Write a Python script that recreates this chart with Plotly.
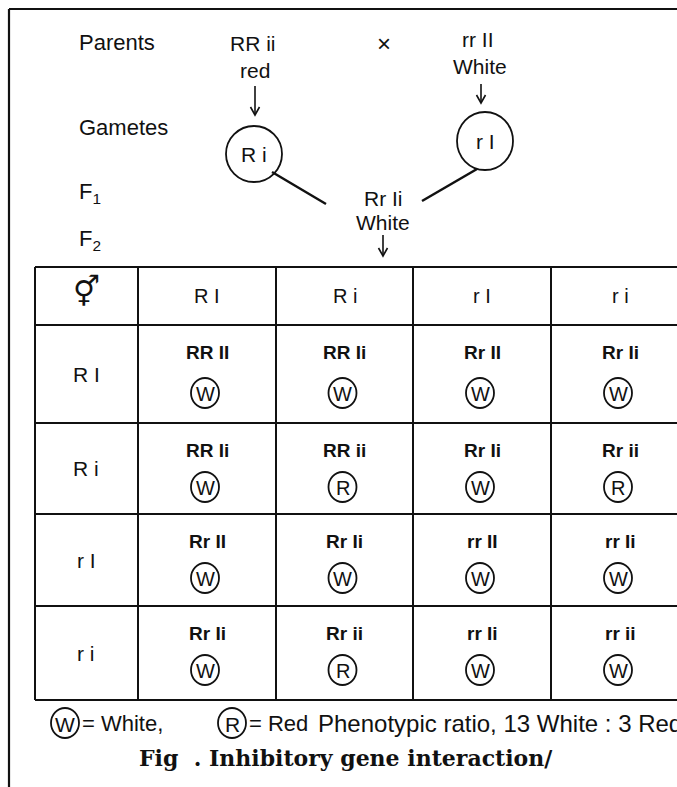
import plotly.graph_objects as go

# ---- data ----
parent_labels = ["Parents", "Gametes", "F<sub>1</sub>", "F<sub>2</sub>"]
parent1 = ["RR ii", "red"]
parent2 = ["rr II", "White"]
gamete1 = "R i"
gamete2 = "r I"
f1 = ["Rr Ii", "White"]
col_gametes = ["R I", "R i", "r I", "r i"]
row_gametes = ["R I", "R i", "r I", "r i"]
genotypes = [
    ["RR II", "RR Ii", "Rr II", "Rr Ii"],
    ["RR Ii", "RR ii", "Rr Ii", "Rr ii"],
    ["Rr II", "Rr Ii", "rr II", "rr Ii"],
    ["Rr Ii", "Rr ii", "rr Ii", "rr ii"],
]
phenotypes = [
    ["W", "W", "W", "W"],
    ["W", "R", "W", "R"],
    ["W", "W", "W", "W"],
    ["W", "R", "W", "W"],
]
legend_items = [("W", "= White,"), ("R", "= Red")]
ratio_text = "Phenotypic ratio, 13 White : 3 Red"
caption = ["Fig  . Inhibitory gene interaction/", "Dominant recessive interaction"]

# ---- layout geometry (pixels of the page) ----
W, H = 677, 787
INK = "#111111"
SANS = "Liberation Sans, Arial, Helvetica, sans-serif"
SERIF = "DejaVu Serif, serif"
col_x = [35, 138, 276, 413, 551, 689]
row_y = [267, 325, 423, 514, 606, 700]

shapes = []
ann = []

def line(x0, y0, x1, y1, w=2):
    shapes.append(dict(type="line", x0=x0, y0=y0, x1=x1, y1=y1,
                       line=dict(color=INK, width=w), layer="above"))

def circle(cx, cy, rx, ry, w=1.8):
    shapes.append(dict(type="circle", x0=cx - rx, y0=cy - ry, x1=cx + rx, y1=cy + ry,
                       line=dict(color=INK, width=w), layer="above"))

def text(x, y, s, size=16, anchor="center", family=SANS, bold=False):
    if bold:
        s = "<b>" + s + "</b>"
    ann.append(dict(x=x, y=y, xref="x", yref="y", text=s, showarrow=False,
                    xanchor=anchor, yanchor="middle",
                    font=dict(family=family, size=size, color=INK)))

def arrow(x, y0, y1):
    line(x, y0, x, y1, 1.6)
    shapes.append(dict(type="path", path=f"M {x-4.5},{y1-8} L {x},{y1} L {x+4.5},{y1-8}",
                       line=dict(color=INK, width=1.6), layer="above"))

# outer frame
line(9, 9, W + 20, 9, 2.2)
line(9, 9, 9, H + 20, 2.2)

# top cross
left_y = [42, 127, 193, 240]
for lab, y in zip(parent_labels, left_y):
    text(77, y, lab, 22, anchor="left")

text(253, 43, parent1[0], 21)
text(255, 70, parent1[1], 21)
arrow(255, 86, 115)
text(384, 43, "×", 24)
text(478, 39, parent2[0], 21)
text(480, 66, parent2[1], 21)
arrow(481, 84, 103)

circle(254, 154, 28, 28)
text(254, 154, gamete1, 21)
circle(485, 141, 28, 29)
text(485, 141, gamete2, 21)

line(272, 172, 326, 204, 2.5)
line(422, 201, 477, 169, 2.5)
text(383, 198, f1[0], 21)
text(383, 222, f1[1], 21)
arrow(383, 235, 256)

# punnett table
for x in col_x:
    line(x, row_y[0], x, row_y[-1], 2)
for y in row_y:
    line(col_x[0], y, col_x[-1], y, 2)

text(86, 291, "<b>⚥</b>", 30, family="DejaVu Sans")
for j, g in enumerate(col_gametes):
    cx = (col_x[j + 1] + col_x[j + 2]) / 2
    text(cx, 296, g, 20)

for i, g in enumerate(row_gametes):
    top, bot = row_y[i + 1], row_y[i + 2]
    text(86, (top + bot) / 2, g, 21)
    for j in range(4):
        cx = (col_x[j + 1] + col_x[j + 2]) / 2
        text(cx, top + 27, genotypes[i][j], 19, bold=True)
        cy = top + 68 if i == 0 else top + 64
        circle(cx - 2, cy, 14, 15)
        text(cx - 2, cy + 1, phenotypes[i][j], 20)

# legend
LY = 723
lx = [65, 232]
for (sym, lab), x in zip(legend_items, lx):
    circle(x, LY, 14, 15)
    text(x, LY + 1, sym, 21)
    text(x + 15, LY, lab, 22, anchor="left")
text(316, LY, ratio_text, 24, anchor="left")

# caption
text(346, 758, caption[0], 22, family=SERIF, bold=True)
text(346, 791, caption[1], 22, family=SERIF, bold=True)

fig = go.Figure()
fig.add_trace(go.Scatter(x=[0, W], y=[0, H], mode="markers",
                         marker=dict(opacity=0), hoverinfo="skip", showlegend=False))
fig.update_layout(
    width=W, height=H, margin=dict(l=0, r=0, t=0, b=0),
    paper_bgcolor="white", plot_bgcolor="white",
    xaxis=dict(range=[0, W], visible=False, fixedrange=True),
    yaxis=dict(range=[H, 0], visible=False, fixedrange=True),
    shapes=shapes, annotations=ann, showlegend=False,
)
fig.write_html("out.html", config={"displayModeBar": False},
               post_script="document.body.style.margin='0';document.body.style.overflow='hidden';")
